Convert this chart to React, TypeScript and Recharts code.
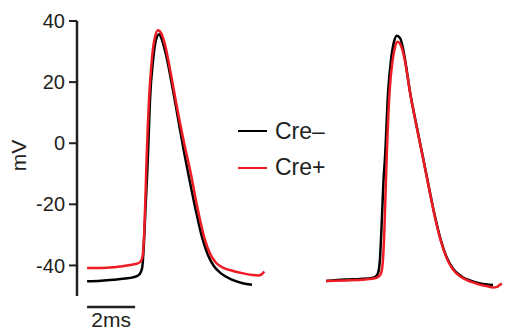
import { LineChart, Line, XAxis, YAxis, ReferenceLine, Legend } from 'recharts';

// [time ms, membrane potential mV]
const creNegA: [number, number][] = [
  [0.42, -45.2], [1.0, -45.0], [1.5, -44.7], [2.0, -44.3], [2.33, -43.9], [2.54, -43.3],
  [2.65, -42.3], [2.72, -40.5], [2.78, -34], [2.85, -22], [2.92, -10.5], [2.96, -3.3],
  [3.04, 14.1], [3.17, 27.2], [3.29, 33.8], [3.42, 35.7], [3.54, 33.8], [3.71, 28.9],
  [3.96, 19.0], [4.2, 8.5], [4.45, -2.5], [4.7, -12.5], [4.95, -22], [5.2, -30.5],
  [5.45, -36.5], [5.7, -40.2], [6.0, -42.6], [6.4, -44.5], [6.9, -45.8], [7.29, -46.3],
];
const crePosA: [number, number][] = [
  [0.42, -40.8], [1.0, -40.8], [1.5, -40.6], [2.0, -40.1], [2.33, -39.7], [2.5, -39.4],
  [2.64, -38.8], [2.72, -37.5], [2.79, -31], [2.85, -18], [2.9, -4.9], [3.0, 14.1],
  [3.125, 28.0], [3.25, 34.8], [3.375, 37.0], [3.5, 36.1], [3.67, 32.1], [3.92, 22.3],
  [4.17, 11.5], [4.45, 0.5], [4.75, -10.2], [5.0, -20.5], [5.3, -30.8], [5.55, -36.3],
  [5.8, -39.2], [6.1, -40.8], [6.5, -41.8], [6.93, -42.6], [7.3, -43.1], [7.55, -43.3],
  [7.68, -43.0], [7.8, -42.0],
];
const creNegB: [number, number][] = [
  [10.375, -45.1], [11.17, -44.6], [11.79, -44.4], [12.29, -44.1], [12.45, -43.6],
  [12.55, -42.3], [12.62, -38], [12.7, -25], [12.77, -12], [12.83, -4.9], [12.96, 16.7],
  [13.08, 27.2], [13.2, 33.0], [13.32, 35.2], [13.46, 34.4], [13.58, 31.1], [13.67, 27.2],
  [13.875, 16.7], [14.125, 6.5], [14.42, -4.9], [14.65, -14.0], [14.9, -23.5],
  [15.15, -31.5], [15.4, -37.3], [15.65, -40.9], [16.0, -43.5], [16.4, -45.0],
  [16.8, -45.9], [17.33, -46.4],
];
const crePosB: [number, number][] = [
  [10.375, -45.1], [11.17, -44.9], [12.0, -44.6], [12.45, -44.1], [12.62, -43.3],
  [12.7, -41.5], [12.77, -35], [12.84, -20], [12.9, -4.9], [13.02, 16.7], [13.15, 27.2],
  [13.25, 31.5], [13.35, 33.2], [13.46, 32.5], [13.58, 29.8], [13.67, 26.6], [13.875, 16.5],
  [14.125, 6.3], [14.42, -5.1], [14.65, -14.2], [14.9, -23.8], [15.15, -31.8],
  [15.4, -37.6], [15.65, -41.2], [16.0, -43.8], [16.4, -45.3], [16.8, -46.3],
  [17.1, -46.8], [17.33, -47.2], [17.5, -47.0], [17.62, -46.3], [17.71, -46.1],
];

const yTicks = [-40, -20, 0, 20, 40];
const legendLabels = ['Cre–', 'Cre+'];
const legendColors = ['#000000', '#ed1c24'];
const scaleBar = { start: 0.42, ms: 2, mV: -53.6 };

const ink = '#231f20';
const font = '"Liberation Sans", Arial, Helvetica, sans-serif';

const toPts = (arr: [number, number][]) => arr.map(([t, mV]) => ({ t, mV }));

const LegendBox = () => (
  <div style={{ fontFamily: font, fontSize: 23, color: ink }}>
    {legendLabels.map((name, i) => (
      <div key={name} style={{ display: 'flex', alignItems: 'center', height: 36.6 }}>
        <span style={{ width: 29, borderTop: `2.5px solid ${legendColors[i]}`, marginRight: 8 }} />
        <span>{name}</span>
      </div>
    ))}
  </div>
);

export default function App() {
  return (
    <div style={{ position: 'absolute', left: 0, top: 0 }}>
      <LineChart width={505} height={332} margin={{ top: 21, right: 0, bottom: 36, left: 0 }}>
        <XAxis type="number" dataKey="t" domain={[0, 17.83]} allowDataOverflow hide />
        <YAxis
          type="number"
          width={77}
          domain={[-50, 40]}
          allowDataOverflow
          ticks={yTicks}
          tickSize={8}
          tickMargin={4}
          axisLine={{ stroke: ink, strokeWidth: 2.5 }}
          tickLine={{ stroke: ink, strokeWidth: 2 }}
          tick={{ fill: ink, fontSize: 20, fontFamily: font }}
          label={{ value: 'mV', angle: -90, position: 'insideLeft', offset: 19, dy: -3, style: { textAnchor: 'middle', fill: ink, fontSize: 21, fontFamily: font } }}
        />
        <Legend layout="horizontal" verticalAlign="middle" align="center" content={<LegendBox />} wrapperStyle={{ left: 238, top: 113, width: 'auto' }} />
        <Line data={toPts(creNegA)} dataKey="mV" type="monotone" stroke={legendColors[0]} strokeWidth={2.5} dot={false} isAnimationActive={false} legendType="none" />
        <Line data={toPts(crePosA)} dataKey="mV" type="monotone" stroke={legendColors[1]} strokeWidth={2.5} dot={false} isAnimationActive={false} legendType="none" />
        <Line data={toPts(creNegB)} dataKey="mV" type="monotone" stroke={legendColors[0]} strokeWidth={2.5} dot={false} isAnimationActive={false} legendType="none" />
        <Line data={toPts(crePosB)} dataKey="mV" type="monotone" stroke={legendColors[1]} strokeWidth={2.5} dot={false} isAnimationActive={false} legendType="none" />
        <ReferenceLine
          segment={[{ x: scaleBar.start, y: scaleBar.mV }, { x: scaleBar.start + scaleBar.ms, y: scaleBar.mV }]}
          stroke={ink}
          strokeWidth={2.5}
          ifOverflow="visible"
          label={{ value: `${scaleBar.ms}ms`, position: 'bottom', offset: 5, fill: ink, fontSize: 21, fontFamily: font }}
        />
      </LineChart>
    </div>
  );
}
